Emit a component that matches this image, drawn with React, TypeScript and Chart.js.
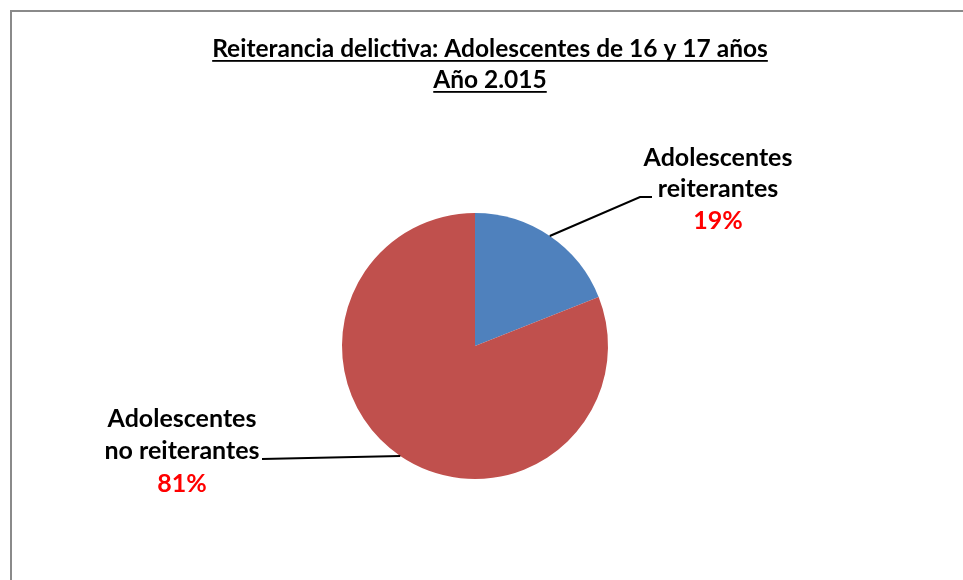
import React, { useEffect, useRef } from "react";
import { Chart, registerables } from "chart.js";

Chart.register(...registerables);

const categories = ["Adolescentes reiterantes", "Adolescentes no reiterantes"];
const values = [19, 81];
const sliceColors = ["#4F81BD", "#C0504D"];
const titleLines = ["Reiterancia delictiva: Adolescentes de 16 y 17 años", "Año 2.015"];
const labelLines = [
  ["Adolescentes", "reiterantes"],
  ["Adolescentes", "no reiterantes"],
];
const percentLabels = ["19%", "81%"];

const FONT = "Lato, 'Open Sans', sans-serif";

const overlay = {
  id: "overlay",
  afterDraw(chart: any) {
    const ctx = chart.ctx as CanvasRenderingContext2D;
    ctx.save();
    // border
    ctx.strokeStyle = "#8a8a8a";
    ctx.lineWidth = 2;
    ctx.strokeRect(11, 11, 1000, 1000);

    // title
    ctx.fillStyle = "#000";
    ctx.font = `bold 24.5px ${FONT}`;
    ctx.textAlign = "center";
    ctx.textBaseline = "alphabetic";
    const tx = 490;
    const tys = [57, 88];
    titleLines.forEach((t, i) => {
      ctx.fillText(t, tx, tys[i]);
      const w = ctx.measureText(t).width;
      ctx.fillRect(tx - w / 2, tys[i] + 3, w, 1.8);
    });

    // labels with leader lines
    const meta = chart.getDatasetMeta(0);
    const total = values.reduce((a, b) => a + b, 0);
    const conf = [
      { cx: 718, ys: [166, 197, 229], elbow: [640, 197], end: [652, 197] },
      { cx: 182, ys: [427, 459, 492], elbow: [262, 459], end: null as any },
    ];
    meta.data.forEach((arc: any, i: number) => {
      const p = arc.getProps(["x", "y", "startAngle", "endAngle", "outerRadius"], true);
      const mid = (p.startAngle + p.endAngle) / 2;
      const ax = p.x + Math.cos(mid) * p.outerRadius;
      const ay = p.y + Math.sin(mid) * p.outerRadius;
      const c = conf[i];
      ctx.strokeStyle = "#000";
      ctx.lineWidth = 2;
      ctx.beginPath();
      ctx.moveTo(ax, ay);
      ctx.lineTo(c.elbow[0], c.elbow[1]);
      if (c.end) ctx.lineTo(c.end[0], c.end[1]);
      ctx.stroke();

      ctx.font = `bold 25px ${FONT}`;
      ctx.fillStyle = "#000";
      ctx.textAlign = "center";
      labelLines[i].forEach((t, j) => ctx.fillText(t, c.cx, c.ys[j]));
      ctx.fillStyle = "#FF0000";
      ctx.fillText(percentLabels[i] ?? `${Math.round((values[i] / total) * 100)}%`, c.cx, c.ys[2]);
    });
    ctx.restore();
  },
};

export default function App() {
  const ref = useRef<HTMLCanvasElement | null>(null);
  useEffect(() => {
    document.body.style.margin = "0";
    const chart = new Chart(ref.current!, {
      type: "pie",
      data: {
        labels: categories,
        datasets: [
          {
            data: values,
            backgroundColor: sliceColors,
            borderWidth: 0,
          },
        ],
      },
      options: {
        responsive: false,
        animation: false,
        layout: { padding: { left: 342, right: 355, top: 213, bottom: 101 } },
        plugins: {
          legend: { display: false },
          tooltip: { enabled: false },
          title: { display: false },
        },
      },
      plugins: [overlay],
    });
    return () => chart.destroy();
  }, []);
  return (
    <div style={{ width: 963, height: 580, background: "#fff" }}>
      <canvas ref={ref} width={963} height={580} />
    </div>
  );
}
